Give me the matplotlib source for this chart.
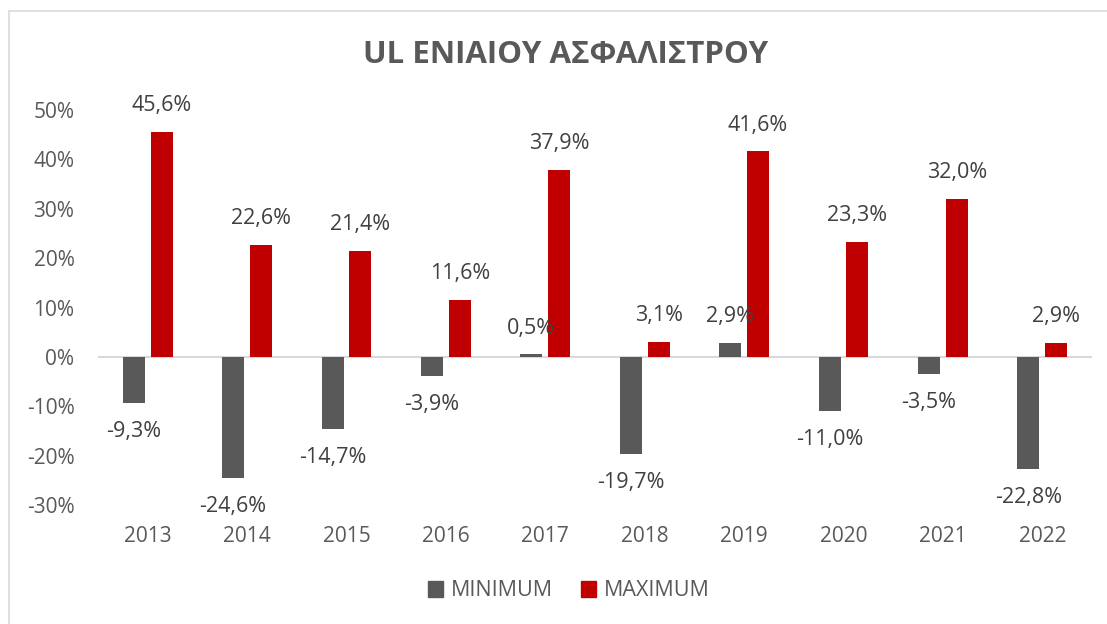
import numpy as np
import matplotlib
matplotlib.use("Agg")
import matplotlib.pyplot as plt
from matplotlib.patches import Rectangle, Patch

plt.rcParams['font.family'] = ['Open Sans', 'DejaVu Sans']

# data
years = ['2013', '2014', '2015', '2016', '2017', '2018', '2019', '2020', '2021', '2022']
minimum = [-9.3, -24.6, -14.7, -3.9, 0.5, -19.7, 2.9, -11.0, -3.5, -22.8]
maximum = [45.6, 22.6, 21.4, 11.6, 37.9, 3.1, 41.6, 23.3, 32.0, 2.9]
yticks = [-30, -20, -10, 0, 10, 20, 30, 40, 50]

GRAY = '#595959'
RED = '#C00000'
TEXT = '#595959'
LABEL = '#404040'

W, H = 1107, 624
fig = plt.figure(figsize=(W / 100, H / 100), dpi=100)
ax = fig.add_axes([98 / W, 119 / H, (1092 - 98) / W, (505 - 110) / H])

x = np.arange(len(years))
bw = 0.22
off = 0.14
ax.bar(x - off, minimum, bw, color=GRAY, zorder=3)
ax.bar(x + off, maximum, bw, color=RED, zorder=3)

# data labels, outside end
def put_labels(xs, vals):
    for xi, v in zip(xs, vals):
        dy = 19 if v >= 0 else -20.5
        txt = f"{v:.1f}%".replace('.', ',')
        ax.annotate(txt, (xi, v), xytext=(0, dy), textcoords='offset points',
                    ha='center', va='center', fontsize=15.5, color=LABEL, zorder=4)

put_labels(x - off, minimum)
put_labels(x + off, maximum)

ax.set_xlim(-0.5, len(years) - 0.5)
ax.set_ylim(-30, 50)
ax.set_yticks(yticks)
ax.set_yticklabels([f"{t}%" for t in yticks])
ax.set_xticks(x)
ax.set_xticklabels(years)
ax.tick_params(axis='y', length=0, pad=17, labelsize=15, labelcolor=TEXT)
ax.tick_params(axis='x', length=0, pad=15, labelsize=15, labelcolor=TEXT)
for s in ax.spines.values():
    s.set_visible(False)
ax.axhline(0, color='#D9D9D9', lw=1.5, zorder=2)

fig.text(566 / W, 1 - 55 / H, 'UL ΕΝΙΑΙΟΥ ΑΣΦΑΛΙΣΤΡΟΥ', ha='center', va='center',
         fontsize=22.5, fontweight='bold', color=TEXT)

handles = [Patch(color=GRAY, label='MINIMUM'), Patch(color=RED, label='MAXIMUM')]
fig.legend(handles=handles, loc='center', bbox_to_anchor=(569 / W, 1 - 591 / H), ncol=2,
           frameon=False, fontsize=15.5, labelcolor=TEXT, handlelength=0.7,
           handleheight=0.7, handletextpad=0.35, columnspacing=1.3)

# outer chart border
fig.patches.append(Rectangle((8.5 / W, -0.05), 1.1, 1 - 11 / H + 0.05,
                             transform=fig.transFigure, fill=False,
                             edgecolor='#D9D9D9', lw=1.2, clip_on=False))

fig.savefig('out.png', dpi=100)
